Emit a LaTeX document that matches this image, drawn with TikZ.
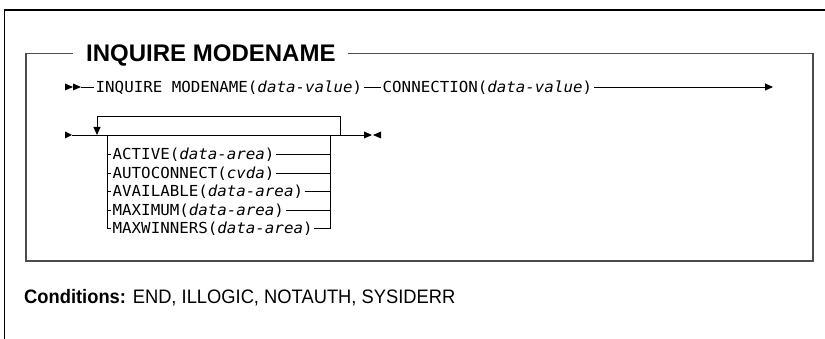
\documentclass[tikz,border=0pt]{standalone}
\usepackage{fontspec}
\setmainfont{Liberation Sans}
\newfontfamily\monofont[FakeStretch=1.04]{DejaVu Sans Mono}
\newfontfamily\condfont[FakeStretch=0.94]{Liberation Sans}
\usetikzlibrary{arrows.meta}
\begin{document}
\begin{tikzpicture}[x=1pt,y=-1pt,
  mono/.style={font=\monofont\fontsize{15.2}{17}\selectfont, inner xsep=1.5pt, inner ysep=0pt, text height=11pt, text depth=0pt, anchor=west},
  rail/.style={line width=0.9pt, black},
  tri/.style={fill=black},
  frame/.style={line width=1.6pt, black!70},
  outer/.style={line width=1.3pt, black},
  endtip/.style={-{Triangle[length=8pt,width=7pt]}}
]
\useasboundingbox (0,0) rectangle (825,339);

% outer frame
\coordinate (ob) at (4.7,339);
\coordinate (ot) at (4.7,10);
\coordinate (or) at (825,10);
\draw[outer] (ob) -- (ot) -- (or);

% title and inner frame
\node[font=\bfseries\fontsize{24}{28}\selectfont, anchor=base west, inner sep=0pt, text height=17.2pt, text depth=0pt] (title) at (86,62) {INQUIRE MODENAME};
\coordinate (f1) at (73,53.5);
\coordinate (f2) at (26,53.5);
\coordinate (f3) at (26,261);
\coordinate (f4) at (813,261);
\coordinate (f5) at (813,53.5);
\coordinate (f6) at (348,53.5);
\draw[frame] (f1) -- (f2) -- (f3) -- (f4) -- (f5) -- (f6);

% main line
\fill[tri] (65,83.5) -- (73,87) -- (65,90.5) -- cycle;
\fill[tri] (73,83.5) -- (81,87) -- (73,90.5) -- cycle;
\coordinate (m0) at (81,87);
\node[mono] (t1) at (94,87) {INQUIRE MODENAME(\textit{data-value})};
\node[mono] (t2) at (381,87) {CONNECTION(\textit{data-value})};
\coordinate (m1) at (773,87);
\draw[rail] (m0) -- (t1);
\draw[rail] (t1) -- (t2);
\draw[rail,endtip] (t2) -- (m1);

% second line with repeat loop
\fill[tri] (65,131.5) -- (72,135) -- (65,138.5) -- cycle;
\coordinate (l0) at (72,135);
\coordinate (j1) at (97,135);
\coordinate (j2) at (107,135);
\coordinate (j3) at (330,135);
\coordinate (j4) at (340,135);
\coordinate (lt) at (340,116);
\coordinate (l1) at (364,135);
\draw[rail] (l0) -- (l1);
\draw[rail,-{Triangle[length=8pt,width=7pt]}] (j4) -- (lt) -| (j1);
\fill[tri] (364,131.5) -- (372,135) -- (364,138.5) -- cycle;
\fill[tri] (381,131.5) -- (373,135) -- (381,138.5) -- cycle;

% options
\node[mono] (o1) at (111,154.5) {ACTIVE(\textit{data-area})};
\node[mono] (o2) at (111,173) {AUTOCONNECT(\textit{cvda})};
\node[mono] (o3) at (111,191.5) {AVAILABLE(\textit{data-area})};
\node[mono] (o4) at (111,210) {MAXIMUM(\textit{data-area})};
\node[mono] (o5) at (111,228.5) {MAXWINNERS(\textit{data-area})};
\draw[rail] (j2) |- (o5.west);
\draw[rail] (j3) |- (o5.east);
\foreach \o in {o1,o2,o3,o4}{
  \draw[rail] (j2 |- \o.west) -- (\o.west);
  \draw[rail] (\o.east) -- (j3 |- \o.east);
}

% conditions
\node[font=\condfont\fontsize{19.5}{23}\selectfont, anchor=base west, inner sep=0pt] (cond) at (24,304) {\textbf{Conditions:} END, ILLOGIC, NOTAUTH, SYSIDERR};
\end{tikzpicture}
\end{document}
